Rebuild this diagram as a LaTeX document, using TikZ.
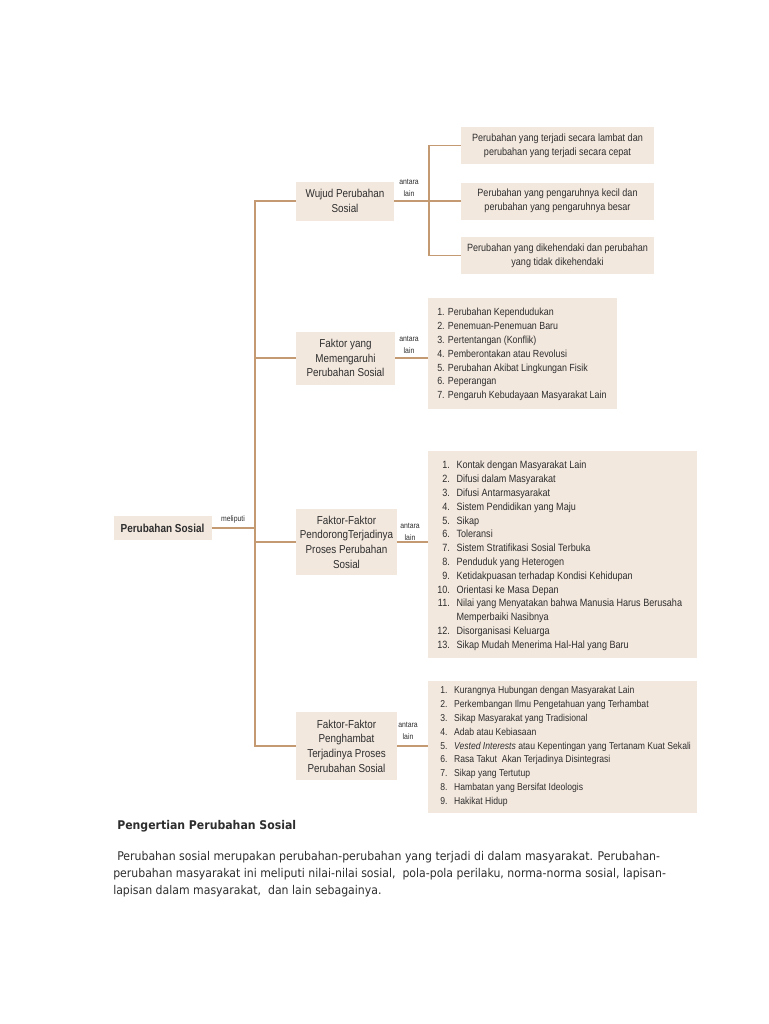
\documentclass[tikz,border=0pt]{standalone}
\usepackage{fontspec}
\setmainfont{Liberation Sans}[FakeStretch=0.86]
\newfontfamily\parafont{DejaVu Sans}[FakeStretch=0.91]
\usetikzlibrary{positioning}
\definecolor{boxfill}{HTML}{F3E8DE}
\definecolor{linec}{HTML}{C49A72}
\definecolor{txt}{HTML}{2E2E2E}
\tikzset{
  box/.style={fill=boxfill, draw=none, inner sep=0pt, align=center, text=txt},
  toplabel/.style={box, font=\fontsize{7.9}{10.5}\selectfont, minimum width=193*0.75pt, minimum height=37*0.75pt},
  midlabel/.style={box, font=\fontsize{8.6}{11}\selectfont},
  conn/.style={draw=linec, line width=1.25pt},
  antara/.style={font=\fontsize{6}{9}\selectfont, text=txt, align=center, inner sep=0pt},
  listtext/.style={anchor=north west, inner sep=0pt, text=txt, align=left},
  paraline/.style={anchor=base west, inner sep=0pt, text=txt, font=\parafont\fontsize{9}{12}\selectfont}
}
\begin{document}
\begin{tikzpicture}[x=0.75pt,y=-0.75pt]
\useasboundingbox[fill=white] (0,0) rectangle (768,1024);

% boxes
\node[box, font=\bfseries\fontsize{8.7}{11}\selectfont, minimum width=98*0.75pt, minimum height=24*0.75pt] (ps) at (162.5,528) {Perubahan Sosial};
\node[midlabel, minimum width=98*0.75pt, minimum height=39*0.75pt] (wujud) at (345,201) {Wujud Perubahan\\Sosial};
\node[toplabel] (b1) at (557.5,145.5) {Perubahan yang terjadi secara lambat dan\\perubahan yang terjadi secara cepat};
\node[toplabel] (b2) at (557.5,201) {Perubahan yang pengaruhnya kecil dan\\perubahan yang pengaruhnya besar};
\node[toplabel] (b3) at (557.5,255.5) {Perubahan yang dikehendaki dan perubahan\\yang tidak dikehendaki};

\node[midlabel, minimum width=99*0.75pt, minimum height=53*0.75pt] (f1) at (345.5,358) {Faktor yang\\Memengaruhi\\Perubahan Sosial};
\node[box, minimum width=189*0.75pt, minimum height=111*0.75pt] (l1) at (522.5,353.5) {};

\node[midlabel, minimum width=101*0.75pt, minimum height=66*0.75pt] (f2) at (346.5,542) {Faktor-Faktor\\PendorongTerjadinya\\Proses Perubahan\\Sosial};
\node[box, minimum width=269*0.75pt, minimum height=207*0.75pt] (l2) at (562.5,554.5) {};

\node[midlabel, minimum width=101*0.75pt, minimum height=68*0.75pt] (f3) at (346.5,746) {Faktor-Faktor\\Penghambat\\Terjadinya Proses\\Perubahan Sosial};
\node[box, minimum width=269*0.75pt, minimum height=132*0.75pt] (l3) at (562.5,747) {};

% list texts
\node[listtext, font=\fontsize{7.75}{10.35}\selectfont] (t1) at (437,306) {%
\begin{tabular}{@{}l@{}}
1. Perubahan Kependudukan\\
2. Penemuan-Penemuan Baru\\
3. Pertentangan (Konflik)\\
4. Pemberontakan atau Revolusi\\
5. Perubahan Akibat Lingkungan Fisik\\
6. Peperangan\\
7. Pengaruh Kebudayaan Masyarakat Lain
\end{tabular}};

\node[listtext, font=\fontsize{7.9}{10.35}\selectfont] (t2) at (437,459) {%
\begin{tabular}{@{}r@{\hspace{5pt}}l@{}}
1. & Kontak dengan Masyarakat Lain\\
2. & Difusi dalam Masyarakat\\
3. & Difusi Antarmasyarakat\\
4. & Sistem Pendidikan yang Maju\\
5. & Sikap\\
6. & Toleransi\\
7. & Sistem Stratifikasi Sosial Terbuka\\
8. & Penduduk yang Heterogen\\
9. & Ketidakpuasan terhadap Kondisi Kehidupan\\
10. & Orientasi ke Masa Depan\\
11. & Nilai yang Menyatakan bahwa Manusia Harus Berusaha\\
 & Memperbaiki Nasibnya\\
12. & Disorganisasi Keluarga\\
13. & Sikap Mudah Menerima Hal-Hal yang Baru
\end{tabular}};

\node[listtext, font=\fontsize{7.5}{10.35}\selectfont] (t3) at (440,684) {%
\begin{tabular}{@{}l@{\hspace{5pt}}l@{}}
1. & Kurangnya Hubungan dengan Masyarakat Lain\\
2. & Perkembangan Ilmu Pengetahuan yang Terhambat\\
3. & Sikap Masyarakat yang Tradisional\\
4. & Adab atau Kebiasaan\\
5. & \textit{Vested Interests} atau Kepentingan yang Tertanam Kuat Sekali\\
6. & Rasa Takut\ \ Akan Terjadinya Disintegrasi\\
7. & Sikap yang Tertutup\\
8. & Hambatan yang Bersifat Ideologis\\
9. & Hakikat Hidup
\end{tabular}};

% connectors
\coordinate (trunk) at (255,0);
\coordinate (fork) at (429,0);
\draw[conn] (ps.east) -- (ps.east -| trunk);
\draw[conn] (wujud.west) -| (f3.west -| trunk) -- (f3.west);
\draw[conn] (f1.west -| trunk) -- (f1.west);
\draw[conn] (f2.west -| trunk) -- (f2.west);
\draw[conn] (wujud.east) -- (b2.west);
\draw[conn] (b1.west) -| (b3.west -| fork) -- (b3.west);
\draw[conn] (f1.east) -- (f1.east -| l1.west);
\draw[conn] (f2.east) -- (f2.east -| l2.west);
\draw[conn] (f3.east) -- (f3.east -| l3.west);

% labels
\node[antara] (m) at (233,519) {meliputi};
\node[antara] (a0) at (409,188) {antara\\lain};
\node[antara] (a1) at (409,345) {antara\\lain};
\node[antara] (a2) at (410,532) {antara\\lain};
\node[antara] (a3) at (408,731) {antara\\lain};

% text below
\node[anchor=base west, inner sep=0pt, text=txt, font=\parafont\bfseries\fontsize{9}{12}\selectfont] (h) at (117,829) {Pengertian Perubahan Sosial};
\node[paraline] (p1) at (117,860) {Perubahan sosial merupakan perubahan-perubahan yang terjadi di dalam masyarakat. Perubahan-};
\node[paraline] (p2) at (113,877) {perubahan masyarakat ini meliputi nilai-nilai sosial,\ \ pola-pola perilaku, norma-norma sosial, lapisan-};
\node[paraline] (p3) at (113,894) {lapisan dalam masyarakat,\ \ dan lain sebagainya.};
\end{tikzpicture}
\end{document}
